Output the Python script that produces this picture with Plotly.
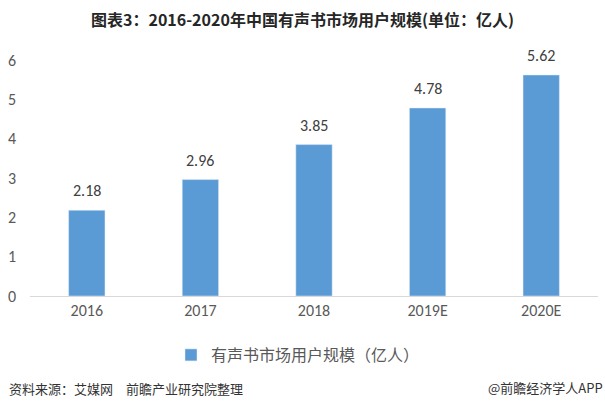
import plotly.graph_objects as go

categories = ["2016", "2017", "2018", "2019E", "2020E"]
values = [2.18, 2.96, 3.85, 4.78, 5.62]
value_labels = ["2.18", "2.96", "3.85", "4.78", "5.62"]
y_ticks = [0, 1, 2, 3, 4, 5, 6]

cjk_font = "Microsoft YaHei, Noto Sans CJK SC, sans-serif"
num_font = "Calibri, Carlito, Lato, Liberation Sans, sans-serif"

W, H = 605, 409
ML, MR, MT, MB = 30, 7, 60, 113
PW, PH = W - ML - MR, H - MT - MB


def px_x(x):
    return (x - ML) / PW


def px_y(y):
    return (H - MB - y) / PH


fig = go.Figure()
fig.add_trace(go.Bar(
    x=categories, y=values,
    name="有声书市场用户规模（亿人）",
    marker=dict(color="#5B9BD5"),
))

annotations = []
# category axes position annotations by category index
for i, (v, t) in enumerate(zip(values, value_labels)):
    annotations.append(dict(
        x=i, y=v, xref="x", yref="y", text=t, showarrow=False,
        yanchor="bottom", yshift=8,
        font=dict(size=16, color="#404040", family=num_font),
    ))

annotations += [
    dict(text="资料来源：艾媒网\u3000前瞻产业研究院整理", x=px_x(7), xref="paper", xanchor="left",
         y=px_y(388), yref="paper", yanchor="middle", showarrow=False,
         font=dict(size=13, color="#333333", family=cjk_font)),
    dict(text="@前瞻经济学人APP", x=px_x(605), xref="paper", xanchor="right",
         y=px_y(387), yref="paper", yanchor="middle", showarrow=False,
         font=dict(size=13, color="#333333", family=cjk_font)),
]

fig.update_layout(
    width=W, height=H,
    paper_bgcolor="white", plot_bgcolor="white",
    margin=dict(l=ML, r=MR, t=MT, b=MB),
    bargap=0.68,
    showlegend=True,
    legend=dict(orientation="h", x=px_x(171), xanchor="left", y=px_y(355), yanchor="middle",
                font=dict(size=16, color="#595959", family=cjk_font),
                itemwidth=30),
    title=dict(text="<b>图表3：2016-2020年中国有声书市场用户规模(单位：亿人)</b>",
               x=0.5, xanchor="center", y=1 - 20 / H, yanchor="middle",
               font=dict(size=16, color="#262626", family=cjk_font)),
    xaxis=dict(type="category", categoryorder="array", categoryarray=categories,
               showline=True, linecolor="#D9D9D9", linewidth=1, ticks="",
               tickfont=dict(size=16, color="#595959", family=num_font)),
    yaxis=dict(range=[0, 6], tickvals=y_ticks, showgrid=False, zeroline=False,
               showline=False, ticks="", ticklabelstandoff=13,
               tickfont=dict(size=16, color="#595959", family=num_font)),
    annotations=annotations,
)

fig.write_html("out.html")
